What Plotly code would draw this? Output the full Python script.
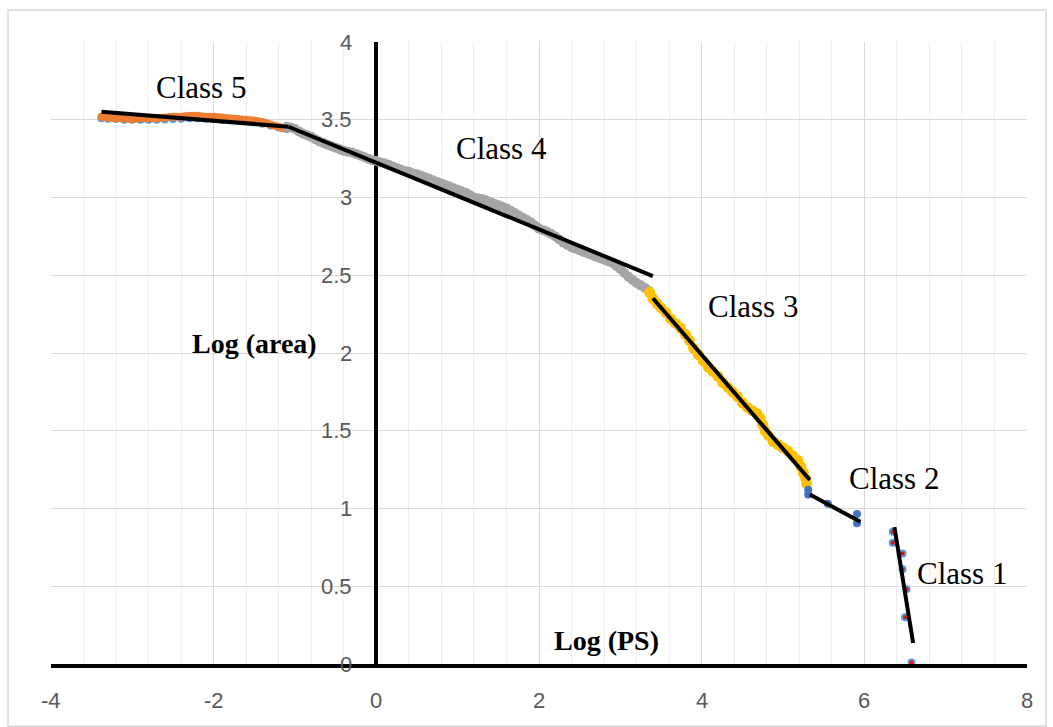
import plotly.graph_objects as go

# ---- data -------------------------------------------------------------
# Class 5 (orange, with the underlying blue series)
c5_x = [-3.38, -3.35, -3.30, -3.25, -3.20, -3.15, -3.10, -3.05, -3.00, -2.95,
        -2.90, -2.85, -2.80, -2.75, -2.70, -2.65, -2.60, -2.55, -2.50, -2.45,
        -2.40, -2.35, -2.30, -2.25, -2.20, -2.15, -2.10, -2.05, -2.00, -1.95,
        -1.90, -1.85, -1.80, -1.75, -1.70, -1.65, -1.60, -1.55, -1.50, -1.45,
        -1.40, -1.35, -1.30, -1.25, -1.20, -1.15]
c5_y = [3.52, 3.518, 3.515, 3.512, 3.51, 3.51, 3.51, 3.507, 3.505, 3.507,
        3.51, 3.51, 3.51, 3.51, 3.51, 3.512, 3.515, 3.518, 3.52, 3.52,
        3.52, 3.523, 3.525, 3.525, 3.525, 3.522, 3.52, 3.52, 3.52, 3.518,
        3.515, 3.512, 3.51, 3.507, 3.505, 3.502, 3.50, 3.497, 3.495, 3.49,
        3.485, 3.478, 3.47, 3.462, 3.455, 3.445]
c5b_x = [-3.38, -3.3, -3.2, -3.1, -3.0, -2.9, -2.8, -2.7, -2.6, -2.5, -2.4, -2.3,
         -2.2, -2.1, -2.0, -1.9, -1.8, -1.7, -1.6, -1.5, -1.4, -1.3, -1.2, -1.1]
c5b_y = [3.51, 3.507, 3.505, 3.50, 3.50, 3.50, 3.50, 3.50, 3.502, 3.505, 3.507,
         3.51, 3.51, 3.507, 3.505, 3.50, 3.497, 3.494, 3.49, 3.484, 3.475, 3.463,
         3.45, 3.44]

# Class 4 (grey)
c4_x = [-1.10, -1.05, -1.00, -0.95, -0.90, -0.85, -0.80, -0.75, -0.70, -0.65,
        -0.60, -0.55, -0.50, -0.45, -0.40, -0.35, -0.30, -0.25, -0.20, -0.15,
        -0.10, -0.05, 0.00, 0.05, 0.10, 0.15, 0.20, 0.25, 0.30, 0.35,
        0.40, 0.45, 0.50, 0.55, 0.60, 0.65, 0.70, 0.75, 0.80, 0.85,
        0.90, 0.95, 1.00, 1.05, 1.10, 1.15, 1.20, 1.25, 1.30, 1.35,
        1.40, 1.45, 1.50, 1.55, 1.60, 1.65, 1.70, 1.75, 1.80, 1.85,
        1.90, 1.95, 2.00, 2.05, 2.10, 2.15, 2.20, 2.25, 2.30, 2.35,
        2.40, 2.45, 2.50, 2.55, 2.60, 2.65, 2.70, 2.75, 2.80, 2.85,
        2.90, 2.95, 3.00, 3.05, 3.10, 3.15, 3.20, 3.25, 3.30, 3.35]
c4_y = [3.455, 3.45, 3.44, 3.425, 3.41, 3.40, 3.39, 3.375, 3.36, 3.35,
        3.34, 3.33, 3.32, 3.31, 3.30, 3.295, 3.29, 3.28, 3.27, 3.26,
        3.25, 3.24, 3.235, 3.225, 3.22, 3.21, 3.20, 3.19, 3.18, 3.17,
        3.165, 3.155, 3.15, 3.14, 3.13, 3.12, 3.11, 3.10, 3.09, 3.08,
        3.07, 3.06, 3.05, 3.04, 3.03, 3.015, 3.00, 2.995, 2.99, 2.98,
        2.97, 2.96, 2.95, 2.94, 2.93, 2.915, 2.90, 2.885, 2.87, 2.855,
        2.84, 2.82, 2.80, 2.79, 2.78, 2.765, 2.75, 2.73, 2.71, 2.695,
        2.68, 2.67, 2.66, 2.65, 2.64, 2.63, 2.62, 2.61, 2.60, 2.59,
        2.58, 2.56, 2.54, 2.515, 2.49, 2.47, 2.45, 2.435, 2.42, 2.40]

# Class 3 (gold)
c3_x = [3.36, 3.40, 3.45, 3.50, 3.56, 3.62, 3.68, 3.74, 3.80, 3.85, 3.90, 3.96,
        4.02, 4.08, 4.14, 4.20, 4.26, 4.32, 4.38, 4.44, 4.50, 4.56, 4.62, 4.68,
        4.72, 4.75, 4.78, 4.82, 4.88, 4.94, 5.00, 5.06, 5.12, 5.18, 5.22, 5.25,
        5.28, 5.29]
c3_y = [2.39, 2.35, 2.32, 2.29, 2.26, 2.22, 2.19, 2.16, 2.12, 2.08, 2.03, 1.99,
        1.95, 1.91, 1.88, 1.85, 1.81, 1.78, 1.75, 1.72, 1.68, 1.65, 1.63, 1.61,
        1.58, 1.54, 1.50, 1.47, 1.43, 1.41, 1.39, 1.37, 1.34, 1.31, 1.27, 1.23,
        1.19, 1.16]

# Class 2 (blue)
c2_x = [5.31, 5.31, 5.55, 5.91, 5.91]
c2_y = [1.12, 1.09, 1.03, 0.965, 0.905]

# Class 1 (blue ring, red centre)
c1_x = [6.35, 6.35, 6.47, 6.47, 6.52, 6.50, 6.58]
c1_y = [0.85, 0.78, 0.71, 0.61, 0.48, 0.30, 0.01]

# Fitted segments (start, end) for each class
fit5_x, fit5_y = [-3.38, -1.08], [3.552, 3.455]
fit4_x, fit4_y = [-1.08, 3.40], [3.455, 2.495]
fit3_x, fit3_y = [3.40, 5.33], [2.352, 1.183]
fit2_x, fit2_y = [5.33, 5.95], [1.09, 0.915]
fit1_x, fit1_y = [6.37, 6.60], [0.88, 0.135]

class_labels = ["Class 5", "Class 4", "Class 3", "Class 2", "Class 1"]
class_label_x = [-2.156, 1.533, 4.632, 6.365, 7.201]
class_label_y = [3.71, 3.312, 2.296, 1.190, 0.579]

x_ticks = [-4, -2, 0, 2, 4, 6, 8]
y_ticks = [0, 0.5, 1, 1.5, 2, 2.5, 3, 3.5, 4]

# ---- figure -----------------------------------------------------------
fig = go.Figure()


def dots(x, y, color, size, clip=True):
    fig.add_trace(go.Scatter(x=x, y=y, mode="markers", cliponaxis=clip,
                             marker=dict(color=color, size=size, line=dict(width=0)),
                             showlegend=False, hoverinfo="skip"))


dots(c5b_x, c5b_y, "#5B9BD5", 8)
dots(c5_x, c5_y, "#ED7D31", 8)
dots(c4_x, c4_y, "#A5A5A5", 10)
dots(c3_x, c3_y, "#FFC000", 11)
dots(c2_x, c2_y, "#4472C4", 8)
dots(c1_x, c1_y, "#5B9BD5", 8, clip=False)
dots(c1_x, c1_y, "#FF0000", 4, clip=False)

for fx, fy in [(fit5_x, fit5_y), (fit4_x, fit4_y), (fit3_x, fit3_y),
               (fit2_x, fit2_y), (fit1_x, fit1_y)]:
    fig.add_trace(go.Scatter(x=fx, y=fy, mode="lines", cliponaxis=False,
                             line=dict(color="black", width=4),
                             showlegend=False, hoverinfo="skip"))

annotations = []
for t, ax_, ay_ in zip(class_labels, class_label_x, class_label_y):
    annotations.append(dict(x=ax_, y=ay_, text=t, showarrow=False,
                            xanchor="center", yanchor="middle",
                            font=dict(family="Liberation Serif", size=31, color="black")))

annotations.append(dict(x=-1.504, y=2.064, text="<b>Log (area)</b>", showarrow=False,
                        xanchor="center", yanchor="middle",
                        font=dict(family="Liberation Serif", size=28, color="black")))
annotations.append(dict(x=2.824, y=0.154, text="<b>Log (PS)</b>", showarrow=False,
                        xanchor="center", yanchor="middle",
                        font=dict(family="Liberation Serif", size=28, color="black")))

tick_font = dict(family="Liberation Sans", size=22, color="#595959")

# y tick labels sit beside the vertical axis at x = 0
for v in y_ticks:
    annotations.append(dict(x=-0.27, y=v, text=f"{v:g}", showarrow=False,
                            xanchor="right", yanchor="middle", font=tick_font))

# x tick labels below the plot area
for v in x_ticks:
    annotations.append(dict(x=v, xref="x", y=-0.058, yref="paper", text=str(v),
                            showarrow=False, xanchor="center", yanchor="middle",
                            font=tick_font))

fig.update_layout(
    width=1053, height=727,
    margin=dict(l=51, r=26, t=42, b=63, autoexpand=False),
    paper_bgcolor="white", plot_bgcolor="white",
    annotations=annotations,
    shapes=[dict(type="rect", xref="paper", yref="paper",
                 x0=-0.044, x1=1.0195, y0=-0.10, y1=1.0514,
                 line=dict(color="#D9D9D9", width=1.5), layer="below")],
    xaxis=dict(range=[-4, 8], tickvals=x_ticks, showticklabels=False,
               showgrid=True, gridcolor="#D9D9D9", gridwidth=1.3,
               minor=dict(tick0=-4, dtick=0.4, showgrid=True, gridcolor="#EDEDED", gridwidth=1),
               zeroline=True, zerolinecolor="black", zerolinewidth=4,
               showline=True, linecolor="black", linewidth=4,
               ticks="", fixedrange=True),
    yaxis=dict(range=[0, 4], tickvals=y_ticks, showticklabels=False,
               showgrid=True, gridcolor="#D9D9D9", gridwidth=1.3,
               zeroline=False, showline=False, ticks="", fixedrange=True),
)

fig.write_html("out.html")
